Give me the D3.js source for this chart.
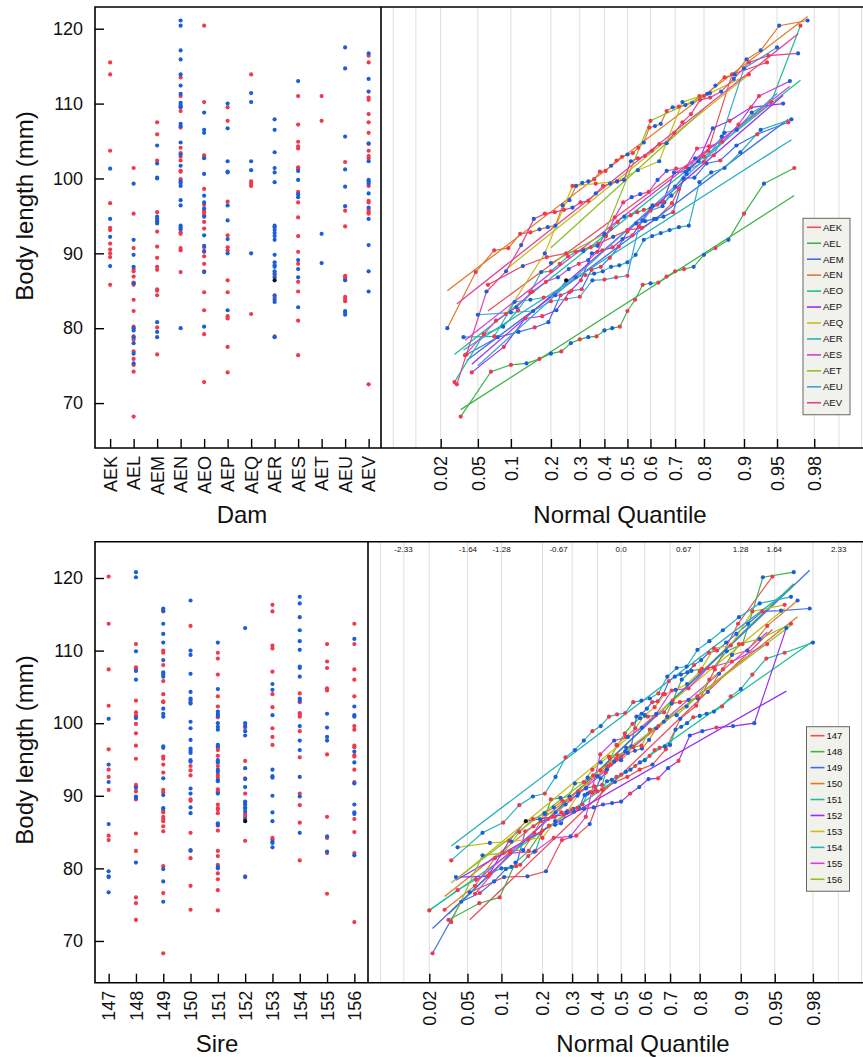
<!DOCTYPE html>
<html>
<head>
<meta charset="utf-8">
<script src="https://cdn.jsdelivr.net/npm/d3@7"></script>
<style>
body{margin:0;background:#fff;}
text{font-family:"Liberation Sans",Arial,Helvetica,sans-serif;fill:#111;}
</style>
</head>
<body>
<svg id="chart" width="863" height="1057"></svg>
<script>
// ---- data: body length (mm) by dam and by sire, red / blue = sex, black = unknown
const damNames = ["AEK","AEL","AEM","AEN","AEO","AEP","AEQ","AER","AES","AET","AEU","AEV"]
const damRed = [
  [115.5,113.9,103.7,96.7,93.4,93.1,91.3,90.5,90.0,89.5,85.8],
  [101.4,95.3,90.7,87.9,87.6,86.9,86.1,85.8,83.8,82.3,80.2,78.9,78.5,76.9,75.9,75.1,74.2,68.2],
  [107.5,105.9,102.4,95.5,92.9,90.9,89.4,88.2,87.8,85.2,85.0,84.4,80.1,76.5],
  [113.5,111.0,109.6,109.0,106.8,104.1,103.4,102.9,102.4,101.0,100.9,99.9,92.8,92.6,90.7,90.4,87.5],
  [120.4,110.2,103.1,102.9,98.6,96.5,95.8,95.5,95.1,94.2,93.3,90.8,90.2,89.6,88.6,87.6,84.8,82.4,79.2,72.8],
  [109.5,107.7,96.9,92.4,90.8,90.4,86.4,84.8,81.6,81.3,77.5,74.1],
  [113.9,99.6,99.3,99.0,81.9],
  [87.1,84.1,78.9],
  [111.0,107.2,104.9,104.3,104.0,101.5,101.3,98.2,96.8,94.8,92.3,90.2,88.6,86.2,84.9,81.0,76.4],
  [111.0,107.7],
  [102.2,95.7,93.6,87.0,86.8,86.5,84.2,83.9,83.6],
  [116.4,115.5,110.8,110.5,108.6,107.5,106.1,104.6,103.7,103.0,102.7,99.0,97.0,96.8,95.8,95.5,95.3,72.5]
]
const damBlue = [
  [101.3,94.6,92.2,88.3],
  [99.3,91.8,89.8,88.2,86.0,80.0,79.7,78.8,78.0,76.6,75.3],
  [104.4,102.0,100.1,100.0,94.9,94.6,94.3,94.0,80.8,79.5,78.8],
  [121.1,120.4,117.1,115.9,113.9,112.4,111.3,110.1,109.8,109.5,107.3,107.0,104.8,103.2,101.7,99.6,99.4,99.0,97.1,96.4,93.7,93.5,93.2,80.0],
  [108.8,106.5,106.1,102.7,100.6,97.7,96.8,96.0,94.9,92.4,91.0,90.3,87.5,80.2],
  [110.0,106.7,102.3,100.9,100.8,96.4,94.4,91.9,90.0,82.4],
  [111.4,110.2,102.3,101.1,90.0],
  [107.9,106.5,103.5,101.4,100.8,99.5,93.7,93.5,93.1,92.7,92.3,91.8,89.8,88.8,88.4,88.2,87.6,87.3,86.8,84.4,83.8,83.5,78.8],
  [113.0,101.0,99.8,97.9,97.5,89.1,87.9,86.8,82.8],
  [92.6,88.7],
  [117.5,114.7,105.6,101.2,98.9,96.3,86.4,82.3,82.1,81.8],
  [116.7,113.3,111.6,104.7,102.3,99.8,99.6,99.3,98.0,96.1,94.6,91.1,87.6,84.9]
]
const damBlack = [[],[],[],[],[],[],[],[86.4],[],[],[],[]]

const sireNames = ["147","148","149","150","151","152","153","154","155","156"]
const sireRed = [
  [120.2,113.7,107.4,102.4,96.4,93.6,92.6,90.8,84.5,83.9],
  [110.9,107.7,107.5,103.1,101.5,101.1,100.9,99.9,98.6,96.9,95.1,91.5,91.3,90.6,89.5,84.8,82.4,76.0,75.2,72.9],
  [115.4,110.0,109.7,108.0,105.8,104.0,103.0,102.9,95.4,95.1,94.3,93.2,90.8,90.5,87.9,87.7,87.1,86.8,86.5,85.8,85.1,80.3,76.6,68.3],
  [113.4,102.9,94.1,93.5,92.8,89.5,89.3,84.9,82.4,81.4,77.6,74.3],
  [109.7,108.9,106.7,103.7,102.3,100.8,96.6,96.3,95.5,94.1,92.9,92.6,90.9,90.6,90.4,88.8,88.3,88.1,87.6,85.9,85.2,82.4,81.7,80.5,79.3,78.5,77.0,74.2],
  [99.4,94.8,92.4,90.3,87.4,87.1,83.8,78.9],
  [116.3,115.4,110.7,110.3,107.1,104.0,102.2,99.3,98.1,97.0,84.2,84.0],
  [104.1,102.9,101.4,101.2,100.9,98.9,95.3,90.3,88.7,86.3,81.1],
  [110.9,108.5,107.6,104.8,104.5,95.7,87.1,84.2,82.1,76.5],
  [113.7,110.9,107.4,106.0,103.7,99.6,99.1,96.9,96.7,95.6,95.4,93.6,91.9,86.8,85.0,82.1,72.6]
]
const sireBlue = [
  [100.6,94.3,91.9,86.1,79.6,78.9,78.8,76.7],
  [120.8,120.1,109.9,107.2,106.0,100.7,91.1,89.9,89.7,80.8],
  [115.8,115.5,113.7,112.3,111.1,108.7,107.0,106.7,106.4,102.0,101.3,100.9,96.8,96.6,92.4,90.1,88.3,88.2,79.9,78.2,75.4],
  [116.9,110.0,109.4,106.8,104.3,103.4,103.2,102.7,100.2,99.3,97.7,96.5,96.2,95.9,94.9,94.7,91.0,90.3,88.4,87.6,82.5],
  [111.1,104.7,101.6,101.3,101.0,100.0,99.5,99.1,97.0,96.8,94.9,94.6,93.6,93.3,92.2,92.0,90.3,86.2,86.0,80.2,80.0],
  [113.1,100.0,99.6,98.9,98.3,93.8,92.3,91.2,89.2,89.0,88.8,88.4,88.2,87.8,86.8,78.8],
  [105.4,104.6,101.1,93.6,92.7,92.5,90.0,87.7,86.5,83.7,83.5,82.9],
  [117.4,116.5,114.6,112.8,111.3,110.1,107.8,107.6,106.4,103.4,103.1,99.6,97.6,96.3,92.6,89.9,84.9],
  [101.3,99.4,98.1,97.6,84.4,82.3],
  [111.6,102.3,101.1,100.9,96.1,94.6,91.7,88.8,87.7,87.5,81.8]
]
const sireBlack = [[],[],[],[],[],[86.5],[],[],[],[]]

const groupColors = ["#e8505c","#3fb34a","#3f6fe8","#e07a2a","#1fbf95","#9b2ff0",
                     "#c9bd1a","#28b2b8","#d43fe0","#8fbf2d","#3aa6d8","#e04298"]
const sexColors = {red:"#ef3a4e", blue:"#1b5fd8", black:"#111"}

const yTicks = [70,80,90,100,110,120]
const probTicks = [0.02,0.05,0.1,0.2,0.3,0.4,0.5,0.6,0.7,0.8,0.9,0.95,0.98]
const probGrid = [0.005,0.01,0.02,0.05,0.1,0.2,0.3,0.4,0.5,0.6,0.7,0.8,0.9,0.95,0.98,0.99,0.995]
const zTopLabels = ["-2.33","-1.64","-1.28","-0.67","0.0","0.67","1.28","1.64","2.33"]

// inverse normal cdf (Acklam)
function qnorm(p){
  const a=[-3.969683028665376e+01,2.209460984245205e+02,-2.759285104469687e+02,1.383577518672690e+02,-3.066479806614716e+01,2.506628277459239e+00]
  const b=[-5.447609879822406e+01,1.615858368580409e+02,-1.556989798598866e+02,6.680131188771972e+01,-1.328068155288572e+01]
  const c=[-7.784894002430293e-03,-3.223964580411365e-01,-2.400758277161838e+00,-2.549732539343734e+00,4.374664141464968e+00,2.938163982698783e+00]
  const d=[7.784695709041462e-03,3.224671290700398e-01,2.445134137142996e+00,3.754408661907416e+00]
  const pl=0.02425
  if(p<pl){let q=Math.sqrt(-2*Math.log(p));return (((((c[0]*q+c[1])*q+c[2])*q+c[3])*q+c[4])*q+c[5])/((((d[0]*q+d[1])*q+d[2])*q+d[3])*q+1)}
  if(p>1-pl){let q=Math.sqrt(-2*Math.log(1-p));return -(((((c[0]*q+c[1])*q+c[2])*q+c[3])*q+c[4])*q+c[5])/((((d[0]*q+d[1])*q+d[2])*q+d[3])*q+1)}
  let q=p-0.5, r=q*q
  return (((((a[0]*r+a[1])*r+a[2])*r+a[3])*r+a[4])*r+a[5])*q/(((((b[0]*r+b[1])*r+b[2])*r+b[3])*r+b[4])*r+1)
}

let svg = d3.select("#chart")

function draw_row(names, red, blue, black, y0, y1, xL, xDiv, yDomain,
  catPad, catAlign, xTitle, xTitlePos, qTitlePos, yTitleY, legendPos, zTop=false)
{
  const xR = 863
  let g = svg.append("g")
  let yScale = d3.scaleLinear().domain(yDomain).range([y1, y0])
  let xCat = d3.scalePoint().domain(names).range([xL, xDiv]).padding(catPad).align(catAlign)
  let xQ = d3.scaleLinear().domain([-2.71, 2.59]).range([xDiv, xR])

  // grid in the quantile panel
  g.selectAll(".grid").data(probGrid).enter().append("line")
    .attr("x1", d => xQ(qnorm(d))).attr("x2", d => xQ(qnorm(d)))
    .attr("y1", y0).attr("y2", y1)
    .attr("stroke", "#dedede").attr("stroke-width", 1)

  if (zTop) {
    g.selectAll(".ztop").data(zTopLabels).enter().append("text")
      .attr("x", d => xQ(+d)).attr("y", y0 + 10)
      .attr("text-anchor", "middle").attr("font-size", 8).text(d => d)
  }

  // group rows of points
  let groups = names.map(function(n, i){
    let pts = []
    red[i].forEach(v => pts.push({v:v, s:"red"}))
    blue[i].forEach(v => pts.push({v:v, s:"blue"}))
    black[i].forEach(v => pts.push({v:v, s:"black"}))
    return {name:n, i:i, pts:pts}
  })

  // left panel: points by group
  groups.forEach(function(gr){
    ["red","blue","black"].forEach(function(s){
      g.selectAll(null).data(gr.pts.filter(p => p.s == s)).enter().append("circle")
        .attr("cx", xCat(gr.name)).attr("cy", d => yScale(d.v))
        .attr("r", 2.1).attr("fill", sexColors[s])
    })
  })

  // right panel: normal quantile lines + fit lines
  let line = d3.line().x(d => xQ(d.z)).y(d => yScale(d.v))
  groups.forEach(function(gr){
    let n = gr.pts.length
    gr.sorted = gr.pts.slice().sort((a,b) => a.v - b.v)
    gr.sorted.forEach((d,k) => d.z = qnorm((k+1)/(n+1)))
    let m = d3.mean(gr.pts, d => d.v), sd = d3.deviation(gr.pts, d => d.v)
    let zA = gr.sorted[0].z, zB = gr.sorted[n-1].z
    g.append("path").datum(gr.sorted).attr("d", line)
      .attr("fill", "none").attr("stroke", groupColors[gr.i]).attr("stroke-width", 1.2)
    g.append("path").datum([{z:zA, v:m+sd*zA},{z:zB, v:m+sd*zB}]).attr("d", line)
      .attr("fill", "none").attr("stroke", groupColors[gr.i]).attr("stroke-width", 1.3)
  })
  groups.forEach(function(gr){
    g.selectAll(null).data(gr.sorted).enter().append("circle")
      .attr("cx", d => xQ(d.z)).attr("cy", d => yScale(d.v))
      .attr("r", 2.1).attr("fill", d => sexColors[d.s])
  })

  // axes
  let y_axis = d3.axisLeft(yScale).tickValues(yTicks).tickSize(-9).tickPadding(12)
  let ya = g.append("g").attr("transform", `translate(${xL},0)`).call(y_axis)
  ya.select(".domain").remove()
  ya.selectAll("text").attr("font-size", 18).attr("font-family", "Liberation Sans, Arial, sans-serif")
  ya.selectAll("line").attr("stroke-width", 1.4)

  let x_axis = d3.axisBottom(xCat).tickSize(-9)
  let xa = g.append("g").attr("transform", `translate(0,${y1})`).call(x_axis)
  xa.select(".domain").remove()
  xa.selectAll("line").attr("stroke-width", 1.4)
  xa.selectAll("text").attr("font-size", 18).attr("font-family", "Liberation Sans, Arial, sans-serif")
    .attr("transform", "translate(0,8) rotate(-90)").attr("x", 0).attr("y", 0)
    .attr("dy", "0.35em").attr("text-anchor", "end")

  let q_axis = d3.axisBottom(xQ).tickValues(probTicks.map(qnorm))
    .tickFormat((d,i) => String(probTicks[i])).tickSize(-9)
  let qa = g.append("g").attr("transform", `translate(0,${y1})`).call(q_axis)
  qa.select(".domain").remove()
  qa.selectAll("line").attr("stroke-width", 1.4)
  qa.selectAll("text").attr("font-size", 18).attr("font-family", "Liberation Sans, Arial, sans-serif")
    .attr("transform", "translate(0,8) rotate(-90)").attr("x", 0).attr("y", 0)
    .attr("dy", "0.35em").attr("text-anchor", "end")

  // frame
  g.append("path")
    .attr("d", `M${xR},${y0}H${xL}V${y1}H${xR}M${xDiv},${y0}V${y1}`)
    .attr("fill", "none").attr("stroke", "#000").attr("stroke-width", 1.6)

  // titles
  g.append("text").attr("x", xTitlePos[0]).attr("y", xTitlePos[1])
    .attr("text-anchor", "middle").attr("font-size", 24).text(xTitle)
  g.append("text").attr("x", qTitlePos[0]).attr("y", qTitlePos[1])
    .attr("text-anchor", "middle").attr("font-size", 24).text("Normal Quantile")
  g.append("text").attr("transform", `translate(33,${yTitleY}) rotate(-90)`)
    .attr("text-anchor", "middle").attr("font-size", 24).text("Body length (mm)")

  // legend
  let step = 15.95
  let lg = g.append("g").attr("transform", `translate(${legendPos[0]},${legendPos[1]})`)
  lg.append("rect").attr("x", 0).attr("y", -9).attr("width", legendPos[2])
    .attr("height", (names.length-1)*step + 21)
    .attr("fill", "#f2f2ed").attr("stroke", "#666").attr("stroke-width", 1)
  names.forEach(function(d,i){
    lg.append("line").attr("x1", 4).attr("x2", 18).attr("y1", i*step).attr("y2", i*step)
      .attr("stroke", groupColors[i]).attr("stroke-width", 1.6)
    lg.append("text").attr("x", 20).attr("y", i*step).attr("dy", "0.35em")
      .attr("font-size", 9.5).attr("fill", "#222").text(d)
  })
}

draw_row(damNames, damRed, damBlue, damBlack, 7, 448, 95, 381, [64, 122.9],
  0.585, 0.55, "Dam", [242, 523], [620, 523], 206, [803, 227.3, 47])
draw_row(sireNames, sireRed, sireBlue, sireBlack, 541.7, 982.7, 95, 368, [64.25, 125],
  0.5, 0.5, "Sire", [217, 1052], [643, 1052], 750, [806.5, 735.7, 43], true)
</script>
</body>
</html>
